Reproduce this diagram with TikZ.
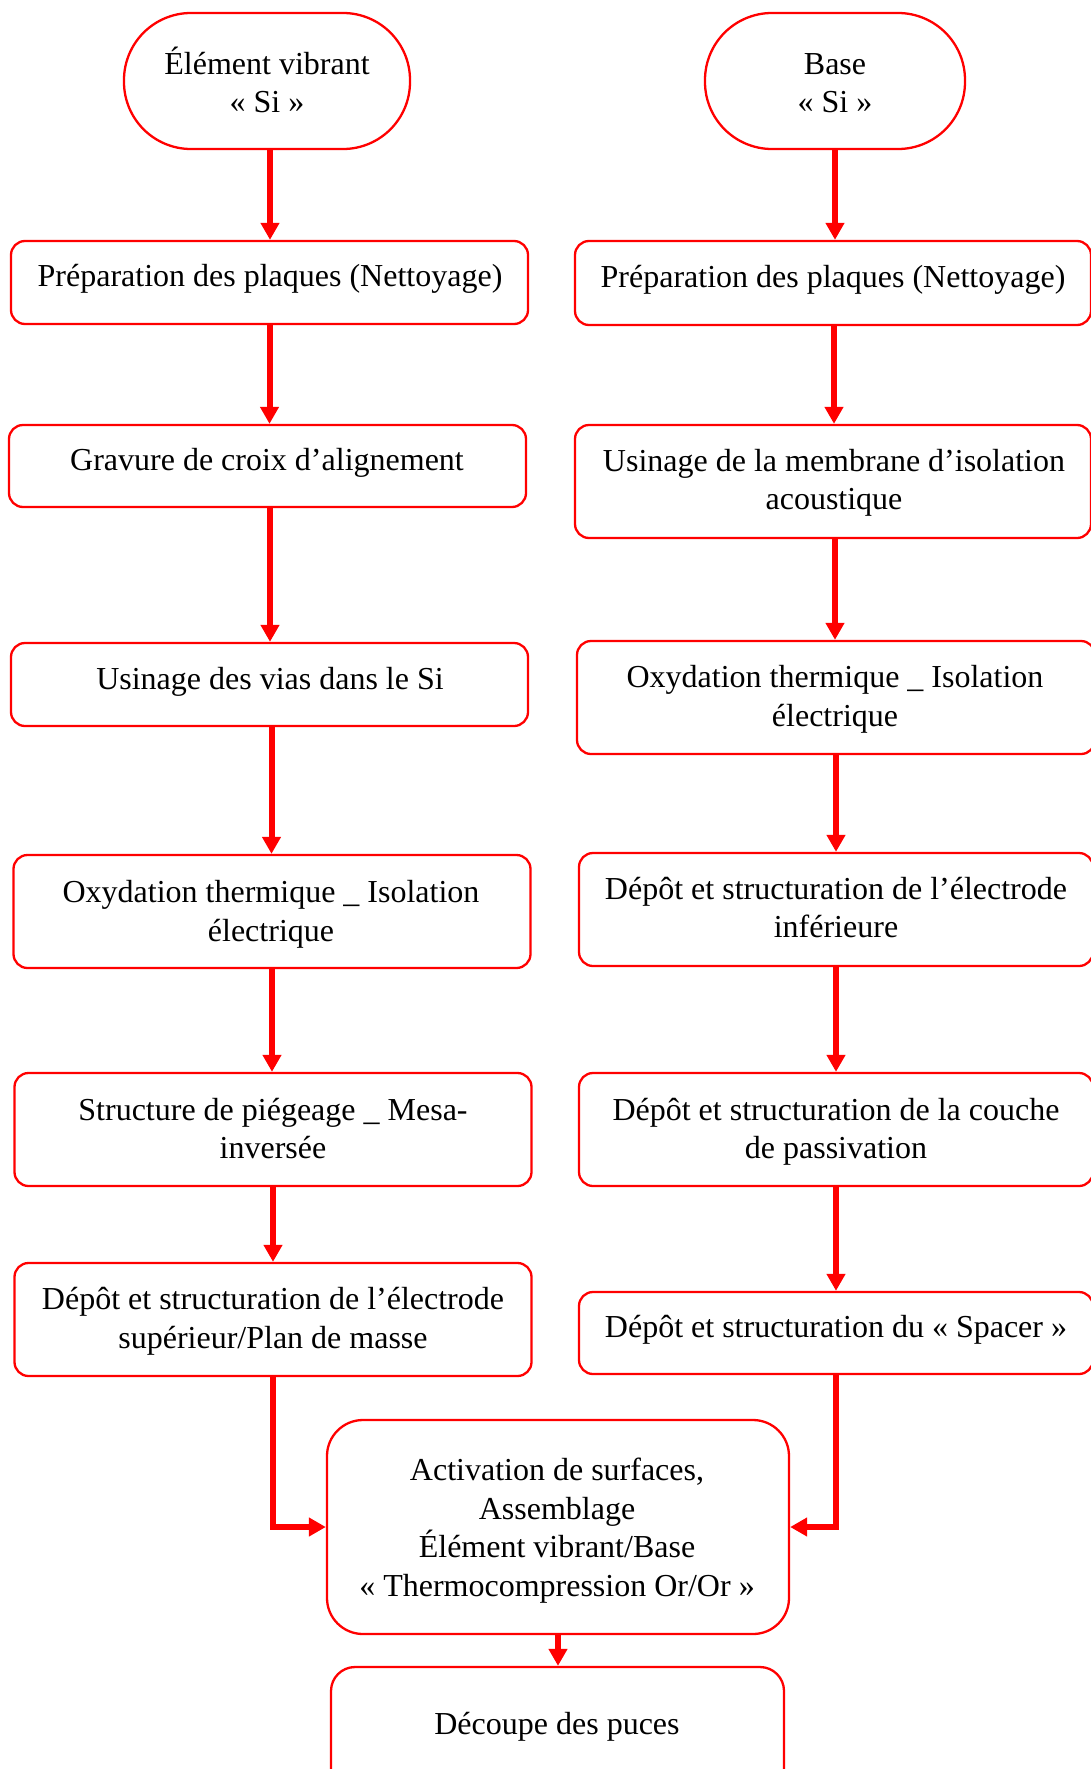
\documentclass[tikz,border=0pt]{standalone}
\usepackage{fontspec}
\setmainfont{Liberation Serif}
\usetikzlibrary{arrows.meta}
\definecolor{pred}{RGB}{255,0,0}
\begin{document}
\begin{tikzpicture}[x=1pt,y=-1pt,
  box/.style 2 args={draw=pred,line width=2.3pt,rounded corners=14pt,minimum width=#1,minimum height=#2,inner sep=0pt},
  stad/.style 2 args={draw=pred,line width=2.3pt,rounded corners=67pt,minimum width=#1,minimum height=#2,inner sep=0pt},
  txt/.style={font=\fontsize{32}{38.5}\selectfont,align=center,inner sep=0pt},
  arr/.style={draw=pred,line width=6pt,-{Triangle[length=17pt,width=18pt]}}]
\useasboundingbox (0,0) rectangle (1090,1769);
% left column
\node[stad={286pt}{136pt}] (ls) at (267,81) {};
\node[txt] (tls) at (267,80) {Élément vibrant\\« Si »};
\node[box={517pt}{83pt}] (l1) at (269.5,282.5) {};
\node[txt] (tl1) at (270,278.5) {Préparation des plaques (Nettoyage)};
\node[box={517pt}{82pt}] (l2) at (267.5,466) {};
\node[txt] (tl2) at (267,462.5) {Gravure de croix d’alignement};
\node[box={517pt}{83pt}] (l3) at (269.5,684.5) {};
\node[txt] (tl3) at (270,681.5) {Usinage des vias dans le Si};
\node[box={517pt}{113pt}] (l4) at (272,911.5) {};
\node[txt] (tl4) at (271,914.5) {Oxydation thermique \_ Isolation\\électrique};
\node[box={517pt}{113pt}] (l5) at (273,1129.5) {};
\node[txt] (tl5) at (273,1128.5) {Structure de piégeage \_ Mesa-\\inversée};
\node[box={517pt}{113pt}] (l6) at (273,1319.5) {};
\node[txt] (tl6) at (273,1321.5) {Dépôt et structuration de l’électrode\\supérieur/Plan de masse};
% right column
\node[stad={260pt}{136pt}] (rs) at (835,81) {};
\node[txt] (trs) at (835,83) {Base\\« Si »};
\node[box={516pt}{84pt}] (r1) at (833,283) {};
\node[txt] (tr1) at (833,279.5) {Préparation des plaques (Nettoyage)};
\node[box={516pt}{113pt}] (r2) at (833,481.5) {};
\node[txt] (tr2) at (834,483) {Usinage de la membrane d’isolation\\acoustique};
\node[box={518pt}{113pt}] (r3) at (836,697.5) {};
\node[txt] (tr3) at (835,699.5) {Oxydation thermique \_ Isolation\\électrique};
\node[box={514pt}{113pt}] (r4) at (836,909.5) {};
\node[txt] (tr4) at (836,907.5) {Dépôt et structuration de l’électrode\\inférieure};
\node[box={514pt}{113pt}] (r5) at (836,1129.5) {};
\node[txt] (tr5) at (836,1132) {Dépôt et structuration de la couche\\de passivation};
\node[box={514pt}{82pt}] (r6) at (836,1333) {};
\node[txt] (tr6) at (836,1329.5) {Dépôt et structuration du « Spacer »};
% bottom
\node[box={462pt}{214pt},rounded corners=36pt] (act) at (558,1527) {};
\node[txt] (tact) at (557,1530.5) {Activation de surfaces,\\Assemblage\\Élément vibrant/Base\\« Thermocompression Or/Or »};
\node[box={453pt}{133pt},rounded corners=24pt] (dec) at (557.5,1733.5) {};
\node[txt] (tdec) at (557,1726.5) {Découpe des puces};
% connectors
\draw[arr] ([xshift=3pt]ls.south) -- ([xshift=3pt]ls.south |- l1.north);
\draw[arr] (l1.south) -- (l1.south |- l2.north);
\draw[arr] ([xshift=2.5pt]l2.south) -- ([xshift=2.5pt]l2.south |- l3.north);
\draw[arr] ([xshift=2pt]l3.south) -- ([xshift=2pt]l3.south |- l4.north);
\draw[arr] (l4.south) -- (l4.south |- l5.north);
\draw[arr] (l5.south) -- (l5.south |- l6.north);
\draw[arr] (rs.south) -- (rs.south |- r1.north);
\draw[arr] ([xshift=1pt]r1.south) -- ([xshift=1pt]r1.south |- r2.north);
\draw[arr] ([xshift=2pt]r2.south) -- ([xshift=2pt]r2.south |- r3.north);
\draw[arr] (r3.south) -- (r3.south |- r4.north);
\draw[arr] (r4.south) -- (r4.south |- r5.north);
\draw[arr] (r5.south) -- (r5.south |- r6.north);
\draw[arr] (l6.south) |- (act.west);
\draw[arr] (r6.south) |- (act.east);
\draw[arr] (act.south) -- (act.south |- dec.north);
\end{tikzpicture}
\end{document}
